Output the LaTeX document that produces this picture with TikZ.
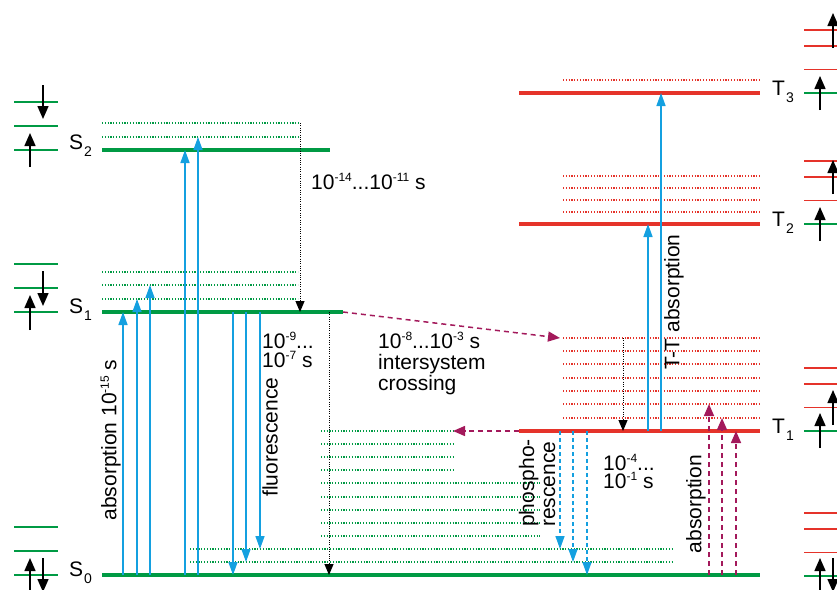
\documentclass[tikz,border=0pt]{standalone}
\usepackage{fontspec}
\setmainfont{Liberation Sans}
\usepackage{xcolor}
\usetikzlibrary{arrows.meta}
\definecolor{levelgreen}{HTML}{009A44}
\definecolor{levelred}{HTML}{E5332A}
\definecolor{photonblue}{HTML}{14A0E0}
\definecolor{iscpurple}{HTML}{A3195B}
\newcommand\sups[1]{\raisebox{7.5pt}[0pt][0pt]{\fontsize{12}{12}\selectfont#1}}
\newcommand\subs[1]{\kern1pt\raisebox{-7pt}[0pt][0pt]{\fontsize{14}{14}\selectfont#1}}

\begin{document}
\begin{tikzpicture}[x=1pt,y=-1pt,
  font=\fontsize{21}{21}\selectfont,
  level/.style={line width=3.5pt},
  vib/.style={line width=1.2pt,dash pattern=on 1.2pt off 1.6pt},
  spinlvl/.style={line width=1.5pt},
  spin/.style={-{Triangle[length=13pt,width=11pt]},line width=1.5pt},
  photon/.style={-{Triangle[length=13pt,width=9pt]},line width=1.5pt,photonblue},
  phos/.style={photon,dash pattern=on 4pt off 3pt},
  relax/.style={-{Triangle[length=11pt,width=9pt]},line width=1pt,dash pattern=on 1pt off 1.3pt},
  isc/.style={-{Triangle[length=12pt,width=10pt]},line width=1.5pt,iscpurple,dash pattern=on 5pt off 4pt},
  lbl/.style={inner sep=0pt}
]
\useasboundingbox (0,0) rectangle (837,589);

% singlet and triplet levels
\coordinate (S2) at (102,150);
\coordinate (S1) at (102,312);
\coordinate (S0) at (102,575);
\coordinate (T3) at (519,93);
\coordinate (T2) at (519,224);
\coordinate (T1) at (519,431);
\coordinate (S1end) at (343,312);
\coordinate (T1top) at (560,338);
\coordinate (S0top) at (453,431);

\draw[level,levelgreen] (S2) -- (330,0 |- S2);
\draw[level,levelgreen] (S1) -- (S1end);
\draw[level,levelgreen] (S0) -- (760,0 |- S0);
\draw[level,levelred] (T3) -- (760,0 |- T3);
\draw[level,levelred] (T2) -- (760,0 |- T2);
\draw[level,levelred] (T1) -- (760,0 |- T1);

% vibrational sublevels
\foreach \y in {123,137} \draw[vib,levelgreen] (102,\y) -- (300,\y);
\foreach \y in {272,285,299} \draw[vib,levelgreen] (102,\y) -- (298,\y);
\foreach \y in {431,444,457,470} \draw[vib,levelgreen] (321,\y) -- (453,\y);
\foreach \y in {483,497,510,523,536} \draw[vib,levelgreen] (321,\y) -- (540,\y);
\foreach \y in {549,562} \draw[vib,levelgreen] (190,\y) -- (673,\y);
\draw[vib,levelred] (563,80) -- (760,80);
\foreach \y in {176,188,200,212} \draw[vib,levelred] (563,\y) -- (760,\y);
\foreach \y in {338,351,364,378,391,404,418} \draw[vib,levelred] (563,\y) -- (760,\y);

% spin pictures, left
\foreach \y in {150,312,575}
  \foreach \d in {0,24,48}
    \draw[spinlvl,levelgreen] (14,\y-\d) -- (58,\y-\d);
\draw[spin] (43,85) -- (43,119);
\draw[spin] (30,167) -- (30,133);
\draw[spin] (30,330) -- (30,295);
\draw[spin] (43,271) -- (43,306);
\draw[spin] (30,592) -- (30,558);
\draw[spin] (43,558) -- (43,592);

% spin pictures, right
\foreach \y in {93,224,431,576}{
  \draw[spinlvl,levelgreen] (804,\y) -- (840,\y);
  \foreach \d in {23.5,47,63}
    \draw[spinlvl,levelred] (804,\y-\d) -- (840,\y-\d);
}
\draw[spin] (820,110) -- (820,76);
\draw[spin] (833,48) -- (833,13);
\draw[spin] (820,241) -- (820,207);
\draw[spin] (833,194) -- (833,160);
\draw[spin] (820,448) -- (820,413);
\draw[spin] (833,425) -- (833,390);
\draw[spin] (820,592) -- (820,558);
\draw[spin] (833,558) -- (833,592);

% absorption and fluorescence
\draw[photon] (123,0 |- S0) -- (123,0 |- S1);
\draw[photon] (137,0 |- S0) -- (137,299);
\draw[photon] (150,0 |- S0) -- (150,285);
\draw[photon] (185,0 |- S0) -- (185,0 |- S2);
\draw[photon] (198,0 |- S0) -- (198,137);
\draw[photon] (233,0 |- S1) -- (233,0 |- S0);
\draw[photon] (246,0 |- S1) -- (246,562);
\draw[photon] (260,0 |- S1) -- (260,549);

% triplet absorption and phosphorescence
\draw[photon] (648,0 |- T1) -- (648,0 |- T2);
\draw[photon] (661,0 |- T1) -- (661,0 |- T3);
\draw[phos] (560,0 |- T1) -- (560,549);
\draw[phos] (573,0 |- T1) -- (573,562);
\draw[phos] (587,0 |- T1) -- (587,0 |- S0);

% relaxation
\draw[relax] (300,123) -- (300,0 |- S1);
\draw[relax] (329,0 |- S1) -- (329,0 |- S0);
\draw[relax] (623,338) -- (623,0 |- T1);

% intersystem crossing
\draw[isc] (S1end) -- (T1top);
\draw[isc] (T1) -- (S0top);
\draw[isc] (709,0 |- S0) -- (709,404);
\draw[isc] (722,0 |- S0) -- (722,418);
\draw[isc] (736,0 |- S0) -- (736,0 |- T1);

% labels
\node[lbl,anchor=base west] (labS2) at (69,149) {S\subs{2}};
\node[lbl,anchor=base west] (labS1) at (69,313) {S\subs{1}};
\node[lbl,anchor=base west] (labS0) at (69,576) {S\subs{0}};
\node[lbl,anchor=base west] (labT3) at (772,95) {T\subs{3}};
\node[lbl,anchor=base west] (labT2) at (772,226) {T\subs{2}};
\node[lbl,anchor=base west] (labT1) at (772,433) {T\subs{1}};

\node[lbl,anchor=base west] (timeIC) at (311,189) {10\sups{-14}...10\sups{-11} s};
\node[lbl,anchor=base west,align=left] (timeFl) at (262,367) {10\sups{-9}...\\[-2pt]10\sups{-7} s};
\node[lbl,anchor=base west,align=left] (timeISC) at (378,390) {10\sups{-8}...10\sups{-3} s\\intersystem\\crossing};
\node[lbl,anchor=base west,align=left] (timePh) at (603,488) {10\sups{-4}...\\[-3pt]10\sups{-1} s};

\node[lbl,rotate=90] (absS) at (111,440) {absorption 10\sups{-15} s};
\node[lbl,rotate=90] (fluo) at (270,437) {fluorescence};
\node[lbl,rotate=90] (absTT) at (674,302) {T-T absorption};
\node[lbl,rotate=90,align=left] (phosph) at (537,483) {phospho-\\rescence};
\node[lbl,rotate=90] (absT) at (696,504) {absorption};
\end{tikzpicture}
\end{document}
